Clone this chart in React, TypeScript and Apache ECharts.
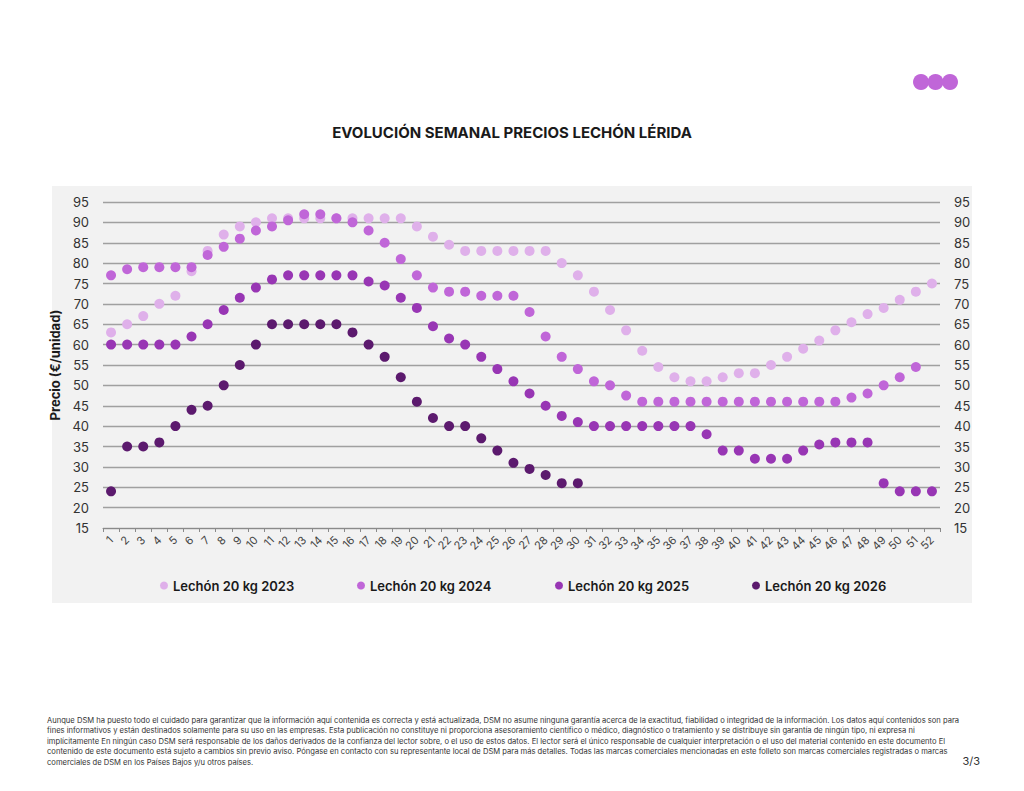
import React, { useEffect, useRef } from "react";
import * as echarts from "echarts";

const weeks: string[] = Array.from({ length: 52 }, (_, i) => String(i + 1));

const seriesNames = ["Lechón 20 kg 2023", "Lechón 20 kg 2024", "Lechón 20 kg 2025", "Lechón 20 kg 2026"];
const seriesColors = ["#dfb0ea", "#c066d8", "#9836b4", "#5c1a6e"];

const price2023: (number | null)[] = [
  63, 65, 67, 70, 72, 78, 83, 87, 89, 90, 91, 91, 91, 91, 91, 91, 91, 91, 91, 89,
  86.5, 84.5, 83, 83, 83, 83, 83, 83, 80, 77, 73, 68.5, 63.5, 58.5, 54.5, 52, 51, 51, 52, 53,
  53, 55, 57, 59, 61, 63.5, 65.5, 67.5, 69, 71, 73, 75,
];
const price2024: (number | null)[] = [
  77, 78.5, 79, 79, 79, 79, 82, 84, 86, 88, 89, 90.5, 92, 92, 91, 90, 88, 85, 81, 77,
  74, 73, 73, 72, 72, 72, 68, 62, 57, 54, 51, 50, 47.5, 46, 46, 46, 46, 46, 46, 46,
  46, 46, 46, 46, 46, 46, 47, 48, 50, 52, 54.5, null,
];
const price2025: (number | null)[] = [
  60, 60, 60, 60, 60, 62, 65, 68.5, 71.5, 74, 76, 77, 77, 77, 77, 77, 75.5, 74.5, 71.5, 69,
  64.5, 61.5, 60, 57, 54, 51, 48, 45, 42.5, 41, 40, 40, 40, 40, 40, 40, 40, 38, 34, 34,
  32, 32, 32, 34, 35.5, 36, 36, 36, 26, 24, 24, 24,
];
const price2026: (number | null)[] = [
  24, 35, 35, 36, 40, 44, 45, 50, 55, 60, 65, 65, 65, 65, 65, 63, 60, 57, 52, 46,
  42, 40, 40, 37, 34, 31, 29.5, 28, 26, 26, null, null, null, null, null, null, null, null, null, null,
  null, null, null, null, null, null, null, null, null, null, null, null,
];
const allSeries = [price2023, price2024, price2025, price2026];

const titleText = "EVOLUCIÓN SEMANAL PRECIOS LECHÓN LÉRIDA";
const yAxisName = "Precio (€/unidad)";
const footerLines = [
  "Aunque DSM ha puesto todo el cuidado para garantizar que la información aquí contenida es correcta y está actualizada, DSM no asume ninguna garantía acerca de la exactitud, fiabilidad o integridad de la información. Los datos aquí contenidos son para",
  "fines informativos y están destinados solamente para su uso en las empresas. Esta publicación no constituye ni proporciona asesoramiento científico o médico, diagnóstico o tratamiento y se distribuye sin garantía de ningún tipo, ni expresa ni",
  "implícitamente En ningún caso DSM será responsable de los daños derivados de la confianza del lector sobre, o el uso de estos datos. El lector será el único responsable de cualquier interpretación o el uso del material contenido en este documento El",
  "contenido de este documento está sujeto a cambios sin previo aviso. Póngase en contacto con su representante local de DSM para más detalles. Todas las marcas comerciales mencionadas en este folleto son marcas comerciales registradas o marcas",
  "comerciales de DSM en los Países Bajos y/u otros países.",
];
const pageLabel = "3/3";

const FONT = "Inter, 'Noto Sans', sans-serif";
const legendLefts = [155, 352, 550, 747];

export default function App() {
  const ref = useRef<HTMLDivElement>(null);
  useEffect(() => {
    if (!ref.current) return;
    const chart = echarts.init(ref.current, undefined, { renderer: "svg" });
    const yAxisCommon = {
      type: "value",
      min: 15,
      max: 95,
      interval: 5,
      axisLine: { show: false },
      axisTick: { show: false },
      axisLabel: { fontSize: 13, color: "#333", fontFamily: FONT, margin: 14 },
    };
    chart.setOption({
      animation: false,
      textStyle: { fontFamily: FONT },
      graphic: [
        { type: "rect", z: -10, shape: { x: 52, y: 186, width: 920, height: 417 }, style: { fill: "#f2f2f2" } },
        { type: "circle", shape: { cx: 921, cy: 82, r: 8 }, style: { fill: "#c066d8" } },
        { type: "circle", shape: { cx: 935.5, cy: 82, r: 8 }, style: { fill: "#c066d8" } },
        { type: "circle", shape: { cx: 950, cy: 82, r: 8 }, style: { fill: "#c066d8" } },
        {
          type: "text",
          x: 512,
          y: 132,
          style: {
            text: titleText,
            fontSize: 15,
            fontWeight: "bold",
            fill: "#1a1a1a",
            fontFamily: FONT,
            align: "center",
            verticalAlign: "middle",
          },
        },
        ...footerLines.map((t, i) => ({
          type: "text",
          x: 47,
          y: 720 + i * 10.6,
          style: { text: t, fontSize: 7.6, fill: "#333", fontFamily: FONT, verticalAlign: "middle" },
        })),
        {
          type: "text",
          x: 980,
          y: 761,
          style: { text: pageLabel, fontSize: 11, fill: "#333", fontFamily: FONT, align: "right", verticalAlign: "middle" },
        },
      ],
      legend: seriesNames.map((n, i) => ({
        data: [n],
        left: legendLefts[i],
        top: 574,
        icon: "circle",
        itemWidth: 8,
        itemHeight: 8,
        itemGap: 0,
        textStyle: { fontSize: 13, fontWeight: 600, color: "#1a1a1a", fontFamily: FONT },
      })),
      grid: { left: 103, right: 84, top: 202, bottom: 263 },
      xAxis: {
        type: "category",
        data: weeks,
        boundaryGap: true,
        axisLine: { show: true, lineStyle: { color: "#8a8a8a", width: 1 } },
        axisTick: { show: true, length: 4, lineStyle: { color: "#8a8a8a" } },
        axisLabel: { rotate: 45, fontSize: 11, color: "#444", fontFamily: FONT, interval: 0, margin: 10 },
      },
      yAxis: [
        {
          ...yAxisCommon,
          position: "left",
          name: yAxisName,
          nameLocation: "middle",
          nameGap: 38,
          nameRotate: 90,
          nameTextStyle: { fontSize: 13, fontWeight: "bold", color: "#1a1a1a", fontFamily: FONT },
          splitLine: { show: true, lineStyle: { color: "#a0a0a0", width: 1.3 } },
        },
        {
          ...yAxisCommon,
          position: "right",
          splitLine: { show: false },
        },
      ],
      series: allSeries.map((d, i) => ({
        name: seriesNames[i],
        type: "scatter",
        yAxisIndex: 0,
        data: d,
        symbol: "circle",
        symbolSize: 10,
        itemStyle: { color: seriesColors[i], opacity: 1 },
        z: 2 + i,
      })),
    });
    return () => chart.dispose();
  }, []);
  return <div ref={ref} style={{ position: "absolute", left: 0, top: 0, width: 1024, height: 791 }} />;
}
